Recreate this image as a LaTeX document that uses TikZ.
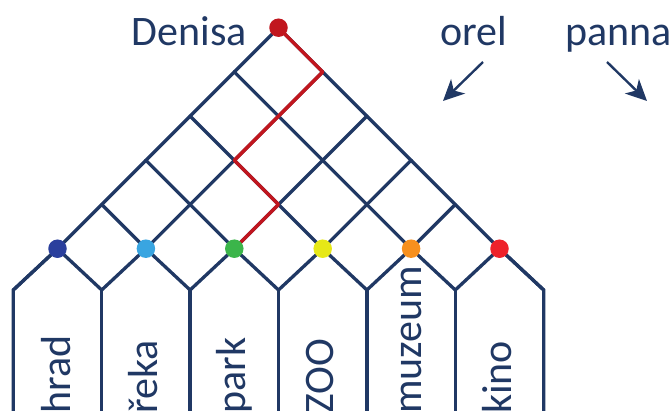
\documentclass[tikz,border=0pt]{standalone}
\usepackage{fontspec}
\setmainfont{Carlito}
\usetikzlibrary{arrows.meta}
\definecolor{navy}{HTML}{203864}
\definecolor{pathred}{HTML}{C1161E}
\definecolor{dothrad}{HTML}{2A3F9D}
\definecolor{dotreka}{HTML}{39A5E1}
\definecolor{dotpark}{HTML}{3BB54A}
\definecolor{dotzoo}{HTML}{E6E817}
\definecolor{dotmuzeum}{HTML}{F7901E}
\definecolor{dotkino}{HTML}{EE222B}
\begin{document}
\begin{tikzpicture}[x=1pt,y=-1pt,
  lattice/.style={draw=navy, line width=3.3pt, line cap=round, line join=round},
  outline/.style={draw=navy, line width=3.3pt, line cap=butt, line join=miter},
  route/.style={draw=pathred, line width=3.4pt, line cap=round, line join=round},
  dot/.style={circle, inner sep=0pt, minimum size=18.5pt, fill=#1},
  word/.style={text=navy, inner sep=0pt, font=\fontsize{42}{50}\selectfont},
  place/.style={word, rotate=90, anchor=base west},
  pointer/.style={draw=navy, line width=2.4pt, -{Stealth[length=21pt, width=20pt, inset=6pt]}}]
\useasboundingbox (0,0) rectangle (672,410);

% lattice points: level k, position i
\foreach \k in {0,...,5}
  \foreach \i in {0,...,\k}
    \coordinate (p\k-\i) at ({278.5+44.2*(2*\i-\k)}, {27.7+44.2*\k});
% lower corners of the columns and their bottom ends
\foreach \i in {0,...,6} {
  \coordinate (q\i) at ({278.5+44.2*(2*\i-6)}, 290);
  \coordinate (b\i) at ({278.5+44.2*(2*\i-6)}, 412);
}

% inner diamond lines
\foreach \k in {0,...,4} {
  \pgfmathtruncatemacro{\kk}{\k+1}
  \foreach \i in {0,...,\k} {
    \pgfmathtruncatemacro{\ii}{\i+1}
    \draw[lattice] (p\k-\i) -- (p\kk-\i);
    \draw[lattice] (p\k-\i) -- (p\kk-\ii);
  }
}
\foreach \i in {0,...,5} {
  \pgfmathtruncatemacro{\ii}{\i+1}
  \draw[lattice] (p5-\i) -- (q\i);
  \draw[lattice] (p5-\i) -- (q\ii);
}
% column walls
\foreach \i in {1,...,5}
  \draw[outline] (q\i) -- (b\i);
\draw[outline] (b0) -- (q0) -- (p5-0);
\draw[outline] (b6) -- (q6) -- (p5-5);

% Denisa's route
\draw[route] (p0-0) -- (p1-1) -- (p2-1) -- (p3-1) -- (p4-2) -- (p5-2);

% dots
\node[dot=pathred] (start) at (p0-0) {};
\node[dot=dothrad] (dhrad) at (p5-0) {};
\node[dot=dotreka] (dreka) at (p5-1) {};
\node[dot=dotpark] (dpark) at (p5-2) {};
\node[dot=dotzoo] (dzoo) at (p5-3) {};
\node[dot=dotmuzeum] (dmuzeum) at (p5-4) {};
\node[dot=dotkino] (dkino) at (p5-5) {};

% headings
\node[word, anchor=base east] (denisa) at (247,45.5) {Denisa};
\node[word, anchor=base west] (orel) at (440,45.5) {orel};
\node[word, anchor=base west] (panna) at (565,45.5) {panna};

% arrows
\coordinate (o1) at (483,62);
\coordinate (o2) at (443,101);
\coordinate (n1) at (607,62);
\coordinate (n2) at (647,101);
\draw[pointer] (o1) -- (o2);
\draw[pointer] (n1) -- (n2);

% destinations
\node[place] (hrad) at ({278.5-5*44.2+13}, 414) {hrad};
\node[place] (reka) at ({278.5-3*44.2+12}, 414) {řeka};
\node[place] (park) at ({278.5-1*44.2+11}, 414) {park};
\node[place] (zoo) at ({278.5+1*44.2+11}, 414) {ZOO};
\node[place] (muzeum) at ({278.5+3*44.2+10}, 414) {muzeum};
\node[place] (kino) at ({278.5+5*44.2+12}, 414) {kino};
\end{tikzpicture}
\end{document}
